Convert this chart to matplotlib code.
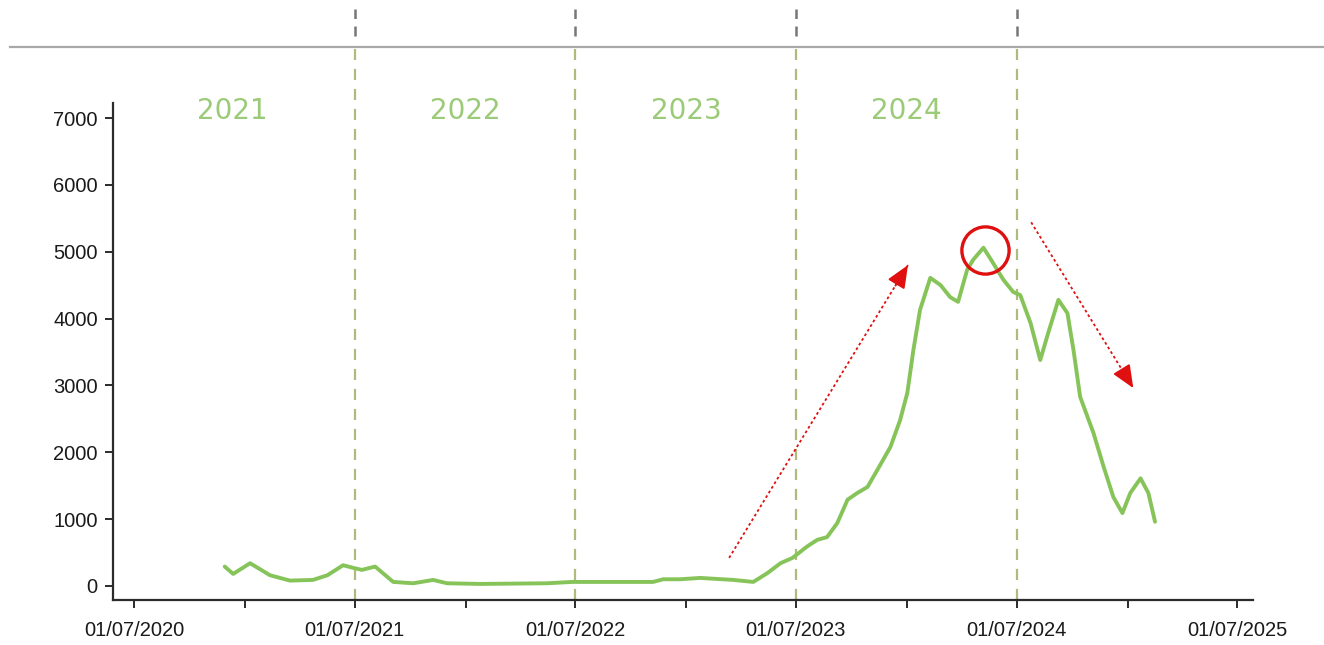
import matplotlib
matplotlib.use('Agg')
import matplotlib.pyplot as plt
import matplotlib.dates as mdates
import pandas as pd
from matplotlib.lines import Line2D

# series
dates = ['2020-11-28', '2020-12-12', '2021-01-09', '2021-02-11', '2021-03-16',
         '2021-04-23', '2021-05-17', '2021-06-12', '2021-06-29', '2021-07-13',
         '2021-08-04', '2021-08-17', '2021-09-03', '2021-10-06', '2021-11-08',
         '2021-12-01', '2022-01-25', '2022-05-16', '2022-06-26', '2022-11-07',
         '2022-11-24', '2022-12-22', '2023-01-24', '2023-03-20', '2023-04-22',
         '2023-05-15', '2023-06-06', '2023-06-26', '2023-07-20', '2023-08-06',
         '2023-08-22', '2023-09-08', '2023-09-25', '2023-10-11', '2023-10-28',
         '2023-11-13', '2023-12-05', '2023-12-21', '2024-01-02', '2024-01-12',
         '2024-01-23', '2024-02-09', '2024-02-26', '2024-03-13', '2024-03-26',
         '2024-04-10', '2024-04-20', '2024-05-07', '2024-05-23', '2024-06-09',
         '2024-06-25', '2024-07-07', '2024-07-24', '2024-08-09', '2024-08-22',
         '2024-09-08', '2024-09-23', '2024-10-03', '2024-10-14', '2024-11-05',
         '2024-11-22', '2024-12-08', '2024-12-23', '2025-01-05', '2025-01-22',
         '2025-02-04', '2025-02-15']
values = [290, 180, 340, 160, 80,
          90, 160, 310, 270, 240,
          290, 190, 60, 40, 90,
          40, 30, 40, 60, 60,
          100, 100, 120, 90, 60,
          190, 340, 420, 590, 690,
          730, 940, 1290, 1390, 1480,
          1730, 2080, 2480, 2890, 3530,
          4130, 4610, 4500, 4320, 4250,
          4730, 4880, 5060, 4830, 4580,
          4400, 4350, 3930, 3380, 3780,
          4280, 4080, 3530, 2830, 2290,
          1780, 1330, 1090, 1390, 1610,
          1390, 960]

year_labels = ['2021', '2022', '2023', '2024']
year_label_dates = ['2020-12-10', '2022-01-01', '2023-01-01', '2024-01-01']
split_dates = ['2021-07-01', '2022-07-01', '2023-07-01', '2024-07-01']
x_tick_dates = ['2020-07-01', '2021-07-01', '2022-07-01', '2023-07-01',
                '2024-07-01', '2025-07-01']
minor_tick_dates = ['2021-01-01', '2022-01-01', '2023-01-01', '2024-01-01',
                    '2025-01-01']
y_ticks = [0, 1000, 2000, 3000, 4000, 5000, 6000, 7000]

# annotations: (start date, start value, end date, end value)
arrows = [('2023-03-13', 420, '2024-01-03', 4800),
          ('2024-07-25', 5440, '2025-01-10', 2960)]
peak_date = '2024-05-10'
peak_value = 5030

GREEN = '#86c45a'
DARK = '#2b2b2b'
RED = '#e01010'


def main():
    plt.rcParams['font.family'] = ['Liberation Sans', 'DejaVu Sans']
    fig = plt.figure(figsize=(13.24, 6.45), dpi=100)
    ax = fig.add_axes([0.0853, 0.0698, 0.861, 0.7705])

    x = pd.to_datetime(dates)
    ax.plot(x, values, color=GREEN, lw=2.8, solid_capstyle='round',
            solid_joinstyle='round', zorder=3)

    ax.set_xlim(pd.Timestamp('2020-05-27'), pd.Timestamp('2025-07-27'))
    ax.set_ylim(-210, 7225)

    for s in ['top', 'right']:
        ax.spines[s].set_visible(False)
    for s in ['left', 'bottom']:
        ax.spines[s].set_color(DARK)
        ax.spines[s].set_linewidth(1.6)

    ax.set_xticks(pd.to_datetime(x_tick_dates))
    ax.xaxis.set_major_formatter(mdates.DateFormatter('%d/%m/%Y'))
    ax.set_xticks(pd.to_datetime(minor_tick_dates), minor=True)
    ax.set_yticks(y_ticks)
    ax.tick_params(axis='both', which='both', direction='out', length=6,
                   width=1.4, color=DARK, labelcolor='#1a1a1a', labelsize=14.5)
    ax.tick_params(axis='y', length=6, pad=5)
    ax.tick_params(axis='x', which='both', pad=9)

    # year separators running up past the top rule
    top_rule = 1 - 47 / 645
    for d in pd.to_datetime(split_dates):
        ax.axvline(d, ymin=0, ymax=1.108, color='#aeba7e', lw=1.6,
                   dashes=(5, 4), clip_on=False, zorder=1)
        ax.axvline(d, ymin=1.135, ymax=1.19, color='#777777', lw=1.8,
                   dashes=(4, 3), clip_on=False, zorder=1)

    fig.add_artist(Line2D([10 / 1324, 1.0], [top_rule, top_rule],
                          color='#a8a8a8', lw=1.6))

    for label, d in zip(year_labels, pd.to_datetime(year_label_dates)):
        ax.text(d, 7110, label, ha='center', va='center', fontsize=20,
                color='#9bcb78', family='DejaVu Sans')

    # dotted shafts, then solid heads at the ends
    for x0, y0, x1, y1 in arrows:
        t0, t1 = pd.Timestamp(x0), pd.Timestamp(x1)
        ax.plot([t0, t1], [y0, y1], color=RED, lw=1.3, ls=(0, (1.5, 1.5)),
                zorder=4)
        tb = t0 + (t1 - t0) * 0.93
        yb = y0 + (y1 - y0) * 0.93
        ax.annotate('', xy=(t1, y1), xytext=(tb, yb),
                    arrowprops=dict(arrowstyle='-|>,head_length=0.7,head_width=0.3',
                                    mutation_scale=20, color=RED, lw=1.3,
                                    shrinkA=0, shrinkB=0), zorder=4)

    ax.plot(pd.Timestamp(peak_date), peak_value, 'o', ms=34, mfc='none',
            mec=RED, mew=2.4, zorder=5)

    fig.savefig('out.png', dpi=100)


if __name__ == '__main__':
    main()
